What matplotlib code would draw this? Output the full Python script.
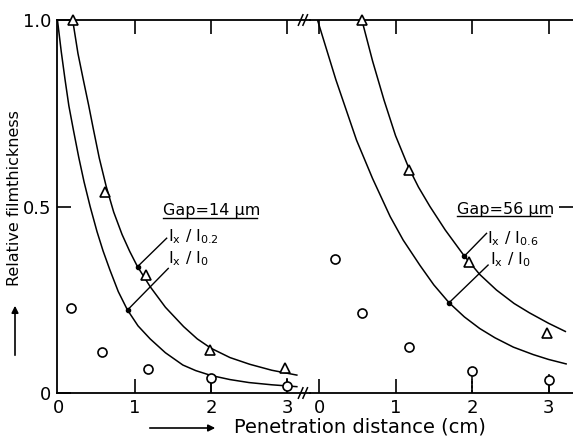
import matplotlib
matplotlib.use("Agg")
import matplotlib.pyplot as plt

# ---------------- data ----------------
# Left panel (Gap = 14 um): curve Ix/I0 and curve Ix/I0.2
L_curve0_x = [-0.02, 0.03, 0.08, 0.13, 0.19, 0.26, 0.33, 0.41, 0.50, 0.58, 0.67,
              0.78, 0.90, 1.04, 1.20, 1.40, 1.63, 1.80, 2.00, 2.25, 2.50, 2.80, 3.13]
L_curve0_y = [1.00, 0.915, 0.84, 0.77, 0.705, 0.632, 0.566, 0.50, 0.433, 0.381, 0.33,
              0.272, 0.223, 0.180, 0.145, 0.108, 0.075, 0.060, 0.047, 0.036, 0.028, 0.022, 0.017]
L_curve2_x = [0.18, 0.25, 0.32, 0.39, 0.45, 0.53, 0.62, 0.72, 0.83, 0.93, 1.03,
              1.20, 1.40, 1.64, 1.82, 2.00, 2.25, 2.51, 2.80, 3.13]
L_curve2_y = [1.00, 0.91, 0.84, 0.772, 0.71, 0.63, 0.555, 0.485, 0.425, 0.38, 0.34,
              0.285, 0.23, 0.178, 0.145, 0.12, 0.095, 0.077, 0.061, 0.048]
L_circ_x = [0.16, 0.57, 1.17, 2.00, 3.00]
L_circ_y = [0.227, 0.111, 0.064, 0.039, 0.020]
L_tri_x = [0.18, 0.605, 1.145, 1.99, 2.97]
L_tri_y = [1.00, 0.54, 0.316, 0.115, 0.067]
L_err_x = [2.00, 3.00]
L_err_lo = [0.0, 0.0]
L_err_hi = [0.039, 0.040]
L_dot_x = [1.035, 0.904]
L_dot_y = [0.339, 0.223]
L_lead_end_x = [1.417, 1.438]
L_lead_end_y = [0.415, 0.334]

# Right panel (Gap = 56 um): curve Ix/I0 and curve Ix/I0.6
R_curve0_x = [-0.02, 0.22, 0.49, 0.70, 0.93, 1.10, 1.32, 1.50, 1.70, 1.90, 2.10,
              2.30, 2.54, 2.80, 3.00, 3.23]
R_curve0_y = [1.00, 0.84, 0.678, 0.575, 0.473, 0.41, 0.342, 0.29, 0.242, 0.204, 0.173,
              0.148, 0.123, 0.103, 0.090, 0.078]
R_curve6_x = [0.56, 0.70, 0.85, 1.00, 1.17, 1.30, 1.45, 1.65, 1.90, 2.10, 2.32,
              2.55, 2.75, 3.00, 3.22]
R_curve6_y = [1.00, 0.89, 0.785, 0.69, 0.605, 0.552, 0.50, 0.437, 0.367, 0.318, 0.276,
              0.24, 0.215, 0.187, 0.165]
R_circ_x = [0.21, 0.56, 1.17, 2.00, 3.00]
R_circ_y = [0.359, 0.214, 0.124, 0.059, 0.035]
R_tri_x = [0.56, 1.17, 1.965, 2.98]
R_tri_y = [1.00, 0.598, 0.352, 0.160]
R_err_x = [2.00, 3.00]
R_err_lo = [0.0, 0.0]
R_err_hi = [0.059, 0.050]
R_dot_x = [1.90, 1.70]
R_dot_y = [0.367, 0.242]
R_lead_end_x = [2.19, 2.21]
R_lead_end_y = [0.428, 0.343]

x_ticks = [0, 1, 2, 3]
x_ticklabels = ["0", "1", "2", "3"]
y_ticks = [0, 0.5, 1.0]
y_ticklabels = ["0", "0.5", "1.0"]

W, H = 573, 437
plt.rcParams['font.family'] = ['DejaVu Sans']
fig = plt.figure(figsize=(W / 100, H / 100), dpi=100)

def fx(px):
    return px / W

def fy(py):
    return 1 - py / H

axL = fig.add_axes([fx(57), fy(393), (310 - 57) / W, (393 - 20) / H])
axR = fig.add_axes([fx(310), fy(393), (573 - 310) / W, (393 - 20) / H])

axL.set_xlim(-0.026, 3.303)
axR.set_xlim(-0.118, 3.32)
for ax in (axL, axR):
    ax.set_ylim(0, 1.0)
    for s in ax.spines.values():
        s.set_linewidth(1.3)
    ax.set_xticks(x_ticks)
    ax.set_xticklabels(x_ticklabels, fontsize=13)
    ax.tick_params(axis='x', direction='in', top=True, length=10, width=1.2, pad=4)
    ax.patch.set_alpha(0)

# no tick mark at x=0 on the left panel (the spine is there)
t0 = axL.xaxis.get_major_ticks()[0]
t0.tick1line.set_visible(False)
t0.tick2line.set_visible(False)

axL.spines['right'].set_visible(False)
axR.spines['left'].set_visible(False)
axR.spines['right'].set_visible(False)

axL.set_yticks(y_ticks)
axL.set_yticklabels(y_ticklabels, fontsize=13)
axL.tick_params(axis='y', direction='in', length=10, width=1.2, pad=4)
axR.set_yticks([0.5])
axR.tick_params(axis='y', left=False, right=True, labelleft=False, direction='in', length=10, width=1.2)

lw = 1.1
mk = dict(mfc='white', mec='black', mew=1.2, ls='none', zorder=4)

def panel(ax, c0x, c0y, c1x, c1y, cx, cy, tx, ty, ex, elo, ehi, dx, dy, lx, ly, ls_err):
    ax.plot(c0x, c0y, color='black', lw=lw, zorder=2, solid_joinstyle='round')
    ax.plot(c1x, c1y, color='black', lw=lw, zorder=2, solid_joinstyle='round')
    for x, lo, hi, ls in zip(ex, elo, ehi, ls_err):
        ax.vlines(x, lo, hi, color='black', lw=1.1, linestyles=ls, zorder=3)
    ax.plot(cx, cy, marker='o', ms=6.5, **mk)
    ax.plot(tx, ty, marker='^', ms=7, clip_on=False, **mk)
    for x0, y0, x1, y1 in zip(dx, dy, lx, ly):
        ax.plot([x0, x1], [y0, y1], color='black', lw=1.0, zorder=3)
    ax.plot(dx, dy, 'o', color='black', ms=3, zorder=5)

panel(axL, L_curve0_x, L_curve0_y, L_curve2_x, L_curve2_y, L_circ_x, L_circ_y,
      L_tri_x, L_tri_y, L_err_x, L_err_lo, L_err_hi, L_dot_x, L_dot_y,
      L_lead_end_x, L_lead_end_y, ['solid', 'solid'])
panel(axR, R_curve0_x, R_curve0_y, R_curve6_x, R_curve6_y, R_circ_x, R_circ_y,
      R_tri_x, R_tri_y, R_err_x, R_err_lo, R_err_hi, R_dot_x, R_dot_y,
      R_lead_end_x, R_lead_end_y, [(0, (2, 1)), 'solid'])

# annotations
fs = 11.5
axL.text(1.37, 0.488, "Gap=14 \u00b5m", fontsize=fs, va='center', ha='left')
axL.plot([1.37, 2.61], [0.468, 0.468], color='black', lw=1.0)
axL.text(1.43, 0.418, "I$_{\\mathregular{x}}$ / I$_{\\mathregular{0.2}}$", fontsize=fs, va='center', ha='left')
axL.text(1.43, 0.360, "I$_{\\mathregular{x}}$ / I$_{\\mathregular{0}}$", fontsize=fs, va='center', ha='left')

axR.text(1.80, 0.493, "Gap=56 \u00b5m", fontsize=fs, va='center', ha='left')
axR.plot([1.80, 3.02], [0.475, 0.475], color='black', lw=1.0)
axR.text(2.19, 0.413, "I$_{\\mathregular{x}}$ / I$_{\\mathregular{0.6}}$", fontsize=fs, va='center', ha='left')
axR.text(2.23, 0.357, "I$_{\\mathregular{x}}$ / I$_{\\mathregular{0}}$", fontsize=fs, va='center', ha='left')

# axis break marks
for yb in (0.0, 1.0):
    for off in (-0.03, 0.03):
        axL.plot([3.21 + off - 0.03, 3.21 + off + 0.03], [yb - 0.014, yb + 0.014],
                 color='black', lw=1.1, clip_on=False, zorder=6)

# axis labels with arrows
fig.text(fx(15), fy(198), "Relative filmthickness", rotation=90, fontsize=11.5,
         ha='center', va='center')
fig.patches.append(matplotlib.patches.FancyArrowPatch(
    (fx(15), fy(358)), (fx(15), fy(303)), transform=fig.transFigure,
    arrowstyle='-|>', mutation_scale=10, color='black', lw=1.2))
fig.text(fx(234), fy(427), "Penetration distance (cm)", fontsize=14,
         ha='left', va='center')
fig.patches.append(matplotlib.patches.FancyArrowPatch(
    (fx(147), fy(428)), (fx(218), fy(428)), transform=fig.transFigure,
    arrowstyle='-|>', mutation_scale=10, color='black', lw=1.2))

fig.savefig("out.png", dpi=100)
